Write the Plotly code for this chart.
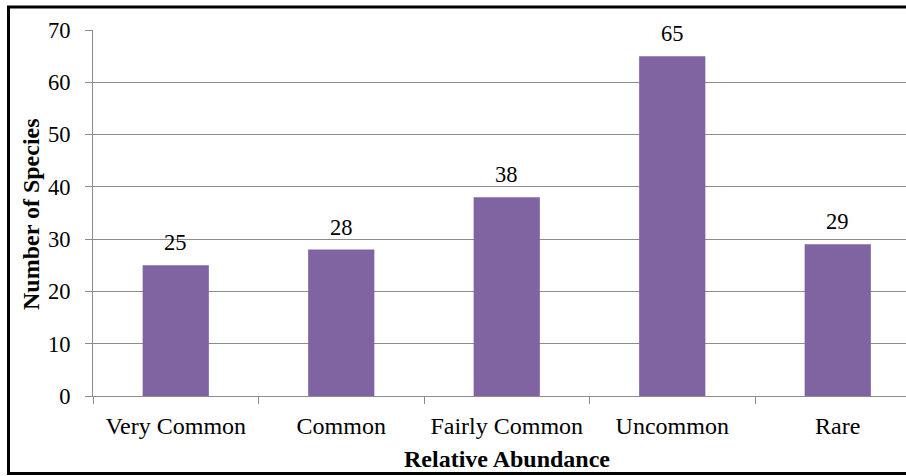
import plotly.graph_objects as go

categories = ["Very Common", "Common", "Fairly Common", "Uncommon", "Rare"]
species = [25, 28, 38, 65, 29]
y_ticks = [0, 10, 20, 30, 40, 50, 60, 70]

W, H = 906, 476
L, R, T, B = 93, 0, 30, 80
pw, ph = W - L - R, H - T - B
cat_px = 165.5  # pixel width per category in the reference

def px_x(px):
    return (px - L) / pw

def px_y(py):
    return (H - B - py) / ph

FONT = "Liberation Serif"
BAR = "#8064A2"
GRID = "#8c8c8c"
FS_NUM = 22.5
FS_TXT = 24

fig = go.Figure()
fig.add_trace(go.Bar(
    x=categories, y=species, marker=dict(color=BAR, line=dict(width=0)),
    hoverinfo="skip",
))

for c, v in zip(categories, species):
    fig.add_annotation(x=c, y=v, text=str(v), showarrow=False,
                       yanchor="bottom", yshift=8,
                       font=dict(family=FONT, size=FS_NUM, color="black"))

# axis titles
fig.add_annotation(xref="paper", yref="paper", x=px_x(507), y=px_y(459),
                   text="<b>Relative Abundance</b>", showarrow=False,
                   xanchor="center", yanchor="middle",
                   font=dict(family=FONT, size=FS_TXT, color="black"))
fig.add_annotation(xref="paper", yref="paper", x=px_x(31), y=px_y(214),
                   text="<b>Number of Species</b>", showarrow=False, textangle=-90,
                   xanchor="center", yanchor="middle",
                   font=dict(family=FONT, size=FS_TXT, color="black"))

# outer border
fig.add_shape(type="rect", xref="paper", yref="paper",
              x0=px_x(8.5), x1=px_x(930), y0=px_y(473.5), y1=px_y(7),
              line=dict(color="black", width=3), fillcolor="rgba(0,0,0,0)", layer="above")

fig.update_layout(
    width=W, height=H,
    margin=dict(l=L, r=R, t=T, b=B, pad=0),
    paper_bgcolor="white", plot_bgcolor="white",
    bargap=0.6, showlegend=False,
    font=dict(family=FONT, size=FS_NUM, color="black"),
    xaxis=dict(
        type="category", range=[-0.5, -0.5 + pw / cat_px],
        showline=True, linecolor=GRID, linewidth=1,
        ticks="outside", tickson="boundaries", ticklen=7, tickcolor=GRID,
        showgrid=False, tickfont=dict(family=FONT, size=FS_TXT, color="black"),
        ticklabelstandoff=8,
    ),
    yaxis=dict(
        range=[0, 70], tickvals=y_ticks,
        showline=True, linecolor=GRID, linewidth=1,
        ticks="outside", ticklen=7, tickcolor=GRID,
        showgrid=True, gridcolor=GRID, gridwidth=1,
        zeroline=False,
        tickfont=dict(family=FONT, size=FS_NUM, color="black"),
        ticklabelstandoff=10,
    ),
)

fig.write_html("out.html")
